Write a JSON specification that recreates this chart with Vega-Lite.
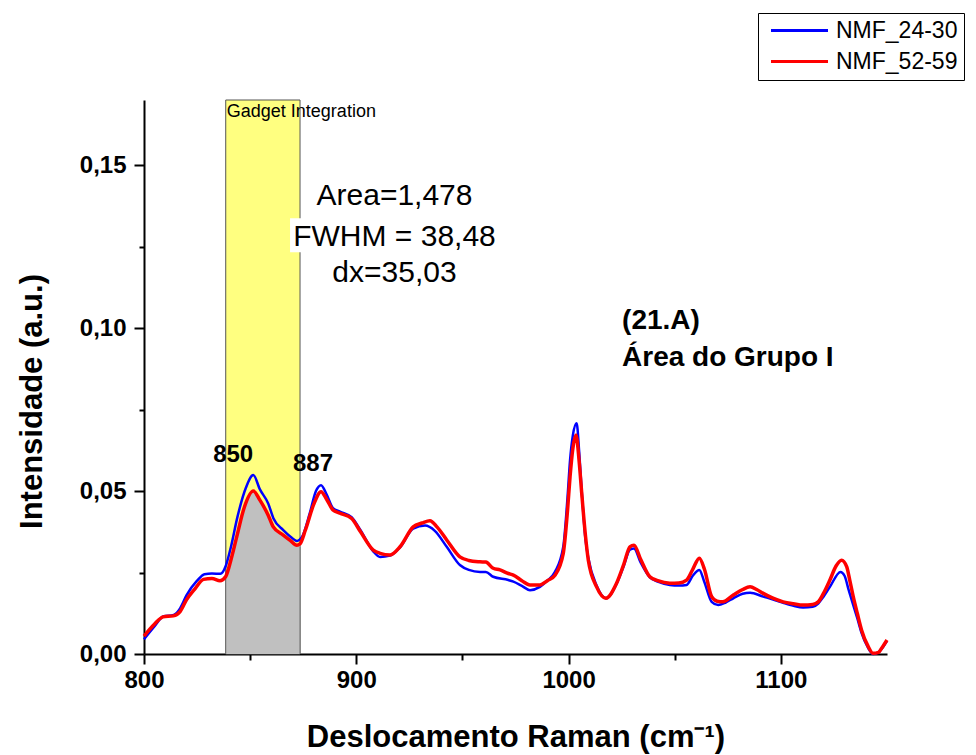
{
  "$schema": "https://vega.github.io/schema/vega-lite/v6.json",
  "width": 743,
  "height": 554,
  "autosize": "none",
  "padding": {"left": 144, "top": 100, "right": 89, "bottom": 101},
  "background": "white",
  "config": {
    "view": {"stroke": null},
    "font": "Liberation Sans",
    "legend": {
      "orient": "none",
      "legendX": 614,
      "legendY": -87,
      "strokeColor": "black",
      "fillColor": "white",
      "padding": 6,
      "symbolType": "M-2.85,0L2.85,0",
      "symbolSize": 400,
      "symbolStrokeWidth": 3,
      "symbolOffset": 24,
      "labelFontSize": 23,
      "labelFont": "Liberation Sans",
      "labelColor": "black",
      "labelOffset": 25,
      "rowPadding": 7,
      "titlePadding": 0
    }
  },
  "datasets": {
    "spectra": [
      {"shift": 800, "intensity": 0.0045, "series": "NMF_24-30"},
      {"shift": 805, "intensity": 0.0085, "series": "NMF_24-30"},
      {"shift": 809, "intensity": 0.0115, "series": "NMF_24-30"},
      {"shift": 814, "intensity": 0.012, "series": "NMF_24-30"},
      {"shift": 817, "intensity": 0.014, "series": "NMF_24-30"},
      {"shift": 820, "intensity": 0.018, "series": "NMF_24-30"},
      {"shift": 825, "intensity": 0.0225, "series": "NMF_24-30"},
      {"shift": 828.5, "intensity": 0.0245, "series": "NMF_24-30"},
      {"shift": 832, "intensity": 0.0247, "series": "NMF_24-30"},
      {"shift": 836, "intensity": 0.0246, "series": "NMF_24-30"},
      {"shift": 838.5, "intensity": 0.027, "series": "NMF_24-30"},
      {"shift": 841, "intensity": 0.033, "series": "NMF_24-30"},
      {"shift": 844, "intensity": 0.042, "series": "NMF_24-30"},
      {"shift": 848, "intensity": 0.051, "series": "NMF_24-30"},
      {"shift": 851.5, "intensity": 0.0549, "series": "NMF_24-30"},
      {"shift": 854.6, "intensity": 0.0505, "series": "NMF_24-30"},
      {"shift": 858.5, "intensity": 0.0462, "series": "NMF_24-30"},
      {"shift": 861, "intensity": 0.0416, "series": "NMF_24-30"},
      {"shift": 865.6, "intensity": 0.038, "series": "NMF_24-30"},
      {"shift": 869, "intensity": 0.036, "series": "NMF_24-30"},
      {"shift": 872, "intensity": 0.0347, "series": "NMF_24-30"},
      {"shift": 874.5, "intensity": 0.036, "series": "NMF_24-30"},
      {"shift": 878, "intensity": 0.043, "series": "NMF_24-30"},
      {"shift": 881, "intensity": 0.05, "series": "NMF_24-30"},
      {"shift": 883.4, "intensity": 0.0518, "series": "NMF_24-30"},
      {"shift": 886, "intensity": 0.049, "series": "NMF_24-30"},
      {"shift": 889, "intensity": 0.0448, "series": "NMF_24-30"},
      {"shift": 892.3, "intensity": 0.0437, "series": "NMF_24-30"},
      {"shift": 897.8, "intensity": 0.042, "series": "NMF_24-30"},
      {"shift": 902, "intensity": 0.038, "series": "NMF_24-30"},
      {"shift": 908, "intensity": 0.0315, "series": "NMF_24-30"},
      {"shift": 911.2, "intensity": 0.0298, "series": "NMF_24-30"},
      {"shift": 915.9, "intensity": 0.0302, "series": "NMF_24-30"},
      {"shift": 920.6, "intensity": 0.0327, "series": "NMF_24-30"},
      {"shift": 926.8, "intensity": 0.0385, "series": "NMF_24-30"},
      {"shift": 932.4, "intensity": 0.0394, "series": "NMF_24-30"},
      {"shift": 937, "intensity": 0.0378, "series": "NMF_24-30"},
      {"shift": 942.6, "intensity": 0.0329, "series": "NMF_24-30"},
      {"shift": 948.8, "intensity": 0.0273, "series": "NMF_24-30"},
      {"shift": 953, "intensity": 0.0258, "series": "NMF_24-30"},
      {"shift": 958.3, "intensity": 0.0252, "series": "NMF_24-30"},
      {"shift": 961, "intensity": 0.0252, "series": "NMF_24-30"},
      {"shift": 964.5, "intensity": 0.0237, "series": "NMF_24-30"},
      {"shift": 971.6, "intensity": 0.0227, "series": "NMF_24-30"},
      {"shift": 974, "intensity": 0.0222, "series": "NMF_24-30"},
      {"shift": 978, "intensity": 0.0209, "series": "NMF_24-30"},
      {"shift": 981.8, "intensity": 0.0196, "series": "NMF_24-30"},
      {"shift": 986.5, "intensity": 0.0206, "series": "NMF_24-30"},
      {"shift": 990, "intensity": 0.0225, "series": "NMF_24-30"},
      {"shift": 993.6, "intensity": 0.0252, "series": "NMF_24-30"},
      {"shift": 997.5, "intensity": 0.0329, "series": "NMF_24-30"},
      {"shift": 999.5, "intensity": 0.048, "series": "NMF_24-30"},
      {"shift": 1000.7, "intensity": 0.0595, "series": "NMF_24-30"},
      {"shift": 1002, "intensity": 0.067, "series": "NMF_24-30"},
      {"shift": 1003.8, "intensity": 0.0708, "series": "NMF_24-30"},
      {"shift": 1005, "intensity": 0.062, "series": "NMF_24-30"},
      {"shift": 1006.2, "intensity": 0.05, "series": "NMF_24-30"},
      {"shift": 1008, "intensity": 0.035, "series": "NMF_24-30"},
      {"shift": 1009.3, "intensity": 0.0295, "series": "NMF_24-30"},
      {"shift": 1013.2, "intensity": 0.021, "series": "NMF_24-30"},
      {"shift": 1017.6, "intensity": 0.0171, "series": "NMF_24-30"},
      {"shift": 1022.6, "intensity": 0.0215, "series": "NMF_24-30"},
      {"shift": 1026, "intensity": 0.027, "series": "NMF_24-30"},
      {"shift": 1028.9, "intensity": 0.032, "series": "NMF_24-30"},
      {"shift": 1030.8, "intensity": 0.0324, "series": "NMF_24-30"},
      {"shift": 1034, "intensity": 0.028, "series": "NMF_24-30"},
      {"shift": 1038.3, "intensity": 0.0235, "series": "NMF_24-30"},
      {"shift": 1042, "intensity": 0.0222, "series": "NMF_24-30"},
      {"shift": 1047.7, "intensity": 0.0212, "series": "NMF_24-30"},
      {"shift": 1052, "intensity": 0.021, "series": "NMF_24-30"},
      {"shift": 1055.6, "intensity": 0.0212, "series": "NMF_24-30"},
      {"shift": 1058.5, "intensity": 0.024, "series": "NMF_24-30"},
      {"shift": 1061.6, "intensity": 0.0258, "series": "NMF_24-30"},
      {"shift": 1064, "intensity": 0.022, "series": "NMF_24-30"},
      {"shift": 1067.4, "intensity": 0.016, "series": "NMF_24-30"},
      {"shift": 1070.5, "intensity": 0.015, "series": "NMF_24-30"},
      {"shift": 1074, "intensity": 0.0158, "series": "NMF_24-30"},
      {"shift": 1077.6, "intensity": 0.0171, "series": "NMF_24-30"},
      {"shift": 1082, "intensity": 0.0185, "series": "NMF_24-30"},
      {"shift": 1085.5, "intensity": 0.0188, "series": "NMF_24-30"},
      {"shift": 1091.7, "intensity": 0.0176, "series": "NMF_24-30"},
      {"shift": 1096, "intensity": 0.0168, "series": "NMF_24-30"},
      {"shift": 1101.1, "intensity": 0.0157, "series": "NMF_24-30"},
      {"shift": 1106, "intensity": 0.0148, "series": "NMF_24-30"},
      {"shift": 1110.5, "intensity": 0.0143, "series": "NMF_24-30"},
      {"shift": 1115, "intensity": 0.0145, "series": "NMF_24-30"},
      {"shift": 1117.6, "intensity": 0.0155, "series": "NMF_24-30"},
      {"shift": 1120, "intensity": 0.0175, "series": "NMF_24-30"},
      {"shift": 1123.1, "intensity": 0.0206, "series": "NMF_24-30"},
      {"shift": 1128.1, "intensity": 0.0252, "series": "NMF_24-30"},
      {"shift": 1130, "intensity": 0.024, "series": "NMF_24-30"},
      {"shift": 1132, "intensity": 0.0195, "series": "NMF_24-30"},
      {"shift": 1134.1, "intensity": 0.015, "series": "NMF_24-30"},
      {"shift": 1136, "intensity": 0.011, "series": "NMF_24-30"},
      {"shift": 1138, "intensity": 0.0065, "series": "NMF_24-30"},
      {"shift": 1141, "intensity": 0.002, "series": "NMF_24-30"},
      {"shift": 1143.5, "intensity": 0.0, "series": "NMF_24-30"},
      {"shift": 1146, "intensity": 0.0005, "series": "NMF_24-30"},
      {"shift": 1148, "intensity": 0.002, "series": "NMF_24-30"},
      {"shift": 1150, "intensity": 0.004, "series": "NMF_24-30"},

      {"shift": 800, "intensity": 0.0055, "series": "NMF_52-59"},
      {"shift": 805, "intensity": 0.0092, "series": "NMF_52-59"},
      {"shift": 809, "intensity": 0.0114, "series": "NMF_52-59"},
      {"shift": 813.8, "intensity": 0.0117, "series": "NMF_52-59"},
      {"shift": 817, "intensity": 0.013, "series": "NMF_52-59"},
      {"shift": 820, "intensity": 0.0166, "series": "NMF_52-59"},
      {"shift": 824, "intensity": 0.02, "series": "NMF_52-59"},
      {"shift": 828, "intensity": 0.0229, "series": "NMF_52-59"},
      {"shift": 832, "intensity": 0.0232, "series": "NMF_52-59"},
      {"shift": 835.8, "intensity": 0.0225, "series": "NMF_52-59"},
      {"shift": 838.5, "intensity": 0.0238, "series": "NMF_52-59"},
      {"shift": 841, "intensity": 0.029, "series": "NMF_52-59"},
      {"shift": 843.7, "intensity": 0.036, "series": "NMF_52-59"},
      {"shift": 847, "intensity": 0.0445, "series": "NMF_52-59"},
      {"shift": 851.5, "intensity": 0.05, "series": "NMF_52-59"},
      {"shift": 854.6, "intensity": 0.0472, "series": "NMF_52-59"},
      {"shift": 858.5, "intensity": 0.0426, "series": "NMF_52-59"},
      {"shift": 860.9, "intensity": 0.039, "series": "NMF_52-59"},
      {"shift": 865.6, "intensity": 0.0365, "series": "NMF_52-59"},
      {"shift": 869, "intensity": 0.0348, "series": "NMF_52-59"},
      {"shift": 872, "intensity": 0.0334, "series": "NMF_52-59"},
      {"shift": 873.5, "intensity": 0.0338, "series": "NMF_52-59"},
      {"shift": 876, "intensity": 0.038, "series": "NMF_52-59"},
      {"shift": 880, "intensity": 0.046, "series": "NMF_52-59"},
      {"shift": 883.4, "intensity": 0.0498, "series": "NMF_52-59"},
      {"shift": 886, "intensity": 0.0475, "series": "NMF_52-59"},
      {"shift": 889, "intensity": 0.0442, "series": "NMF_52-59"},
      {"shift": 892.3, "intensity": 0.0432, "series": "NMF_52-59"},
      {"shift": 897.8, "intensity": 0.0416, "series": "NMF_52-59"},
      {"shift": 902, "intensity": 0.0375, "series": "NMF_52-59"},
      {"shift": 908, "intensity": 0.0319, "series": "NMF_52-59"},
      {"shift": 911.2, "intensity": 0.0309, "series": "NMF_52-59"},
      {"shift": 915.9, "intensity": 0.0304, "series": "NMF_52-59"},
      {"shift": 920.6, "intensity": 0.0329, "series": "NMF_52-59"},
      {"shift": 926.8, "intensity": 0.039, "series": "NMF_52-59"},
      {"shift": 931, "intensity": 0.0402, "series": "NMF_52-59"},
      {"shift": 934.7, "intensity": 0.0409, "series": "NMF_52-59"},
      {"shift": 938, "intensity": 0.039, "series": "NMF_52-59"},
      {"shift": 942.6, "intensity": 0.035, "series": "NMF_52-59"},
      {"shift": 948.8, "intensity": 0.0298, "series": "NMF_52-59"},
      {"shift": 953, "intensity": 0.0287, "series": "NMF_52-59"},
      {"shift": 958.3, "intensity": 0.0283, "series": "NMF_52-59"},
      {"shift": 961, "intensity": 0.0282, "series": "NMF_52-59"},
      {"shift": 964.5, "intensity": 0.0263, "series": "NMF_52-59"},
      {"shift": 967.7, "intensity": 0.0258, "series": "NMF_52-59"},
      {"shift": 971.6, "intensity": 0.0247, "series": "NMF_52-59"},
      {"shift": 974, "intensity": 0.0242, "series": "NMF_52-59"},
      {"shift": 978, "intensity": 0.0225, "series": "NMF_52-59"},
      {"shift": 981.8, "intensity": 0.0212, "series": "NMF_52-59"},
      {"shift": 986.5, "intensity": 0.0212, "series": "NMF_52-59"},
      {"shift": 990, "intensity": 0.0225, "series": "NMF_52-59"},
      {"shift": 993.6, "intensity": 0.0242, "series": "NMF_52-59"},
      {"shift": 997.5, "intensity": 0.0309, "series": "NMF_52-59"},
      {"shift": 999.5, "intensity": 0.044, "series": "NMF_52-59"},
      {"shift": 1000.7, "intensity": 0.0544, "series": "NMF_52-59"},
      {"shift": 1002, "intensity": 0.063, "series": "NMF_52-59"},
      {"shift": 1003.5, "intensity": 0.0672, "series": "NMF_52-59"},
      {"shift": 1005, "intensity": 0.059, "series": "NMF_52-59"},
      {"shift": 1006.2, "intensity": 0.0493, "series": "NMF_52-59"},
      {"shift": 1008, "intensity": 0.036, "series": "NMF_52-59"},
      {"shift": 1009.3, "intensity": 0.0288, "series": "NMF_52-59"},
      {"shift": 1013.2, "intensity": 0.0206, "series": "NMF_52-59"},
      {"shift": 1017.6, "intensity": 0.0171, "series": "NMF_52-59"},
      {"shift": 1022.6, "intensity": 0.0217, "series": "NMF_52-59"},
      {"shift": 1026, "intensity": 0.0275, "series": "NMF_52-59"},
      {"shift": 1028.9, "intensity": 0.0329, "series": "NMF_52-59"},
      {"shift": 1030.8, "intensity": 0.0334, "series": "NMF_52-59"},
      {"shift": 1034, "intensity": 0.029, "series": "NMF_52-59"},
      {"shift": 1038.3, "intensity": 0.0237, "series": "NMF_52-59"},
      {"shift": 1042, "intensity": 0.0225, "series": "NMF_52-59"},
      {"shift": 1047.7, "intensity": 0.0217, "series": "NMF_52-59"},
      {"shift": 1052, "intensity": 0.0218, "series": "NMF_52-59"},
      {"shift": 1055.6, "intensity": 0.0227, "series": "NMF_52-59"},
      {"shift": 1058.5, "intensity": 0.026, "series": "NMF_52-59"},
      {"shift": 1061.6, "intensity": 0.0294, "series": "NMF_52-59"},
      {"shift": 1064, "intensity": 0.026, "series": "NMF_52-59"},
      {"shift": 1067.4, "intensity": 0.0176, "series": "NMF_52-59"},
      {"shift": 1070, "intensity": 0.0162, "series": "NMF_52-59"},
      {"shift": 1072.6, "intensity": 0.016, "series": "NMF_52-59"},
      {"shift": 1077.6, "intensity": 0.0181, "series": "NMF_52-59"},
      {"shift": 1082, "intensity": 0.0198, "series": "NMF_52-59"},
      {"shift": 1085.5, "intensity": 0.0206, "series": "NMF_52-59"},
      {"shift": 1088.6, "intensity": 0.0198, "series": "NMF_52-59"},
      {"shift": 1091.7, "intensity": 0.0186, "series": "NMF_52-59"},
      {"shift": 1096, "intensity": 0.0172, "series": "NMF_52-59"},
      {"shift": 1101.1, "intensity": 0.016, "series": "NMF_52-59"},
      {"shift": 1106, "intensity": 0.0154, "series": "NMF_52-59"},
      {"shift": 1110.5, "intensity": 0.015, "series": "NMF_52-59"},
      {"shift": 1115, "intensity": 0.0152, "series": "NMF_52-59"},
      {"shift": 1117.6, "intensity": 0.016, "series": "NMF_52-59"},
      {"shift": 1120, "intensity": 0.0185, "series": "NMF_52-59"},
      {"shift": 1123.1, "intensity": 0.0227, "series": "NMF_52-59"},
      {"shift": 1126, "intensity": 0.027, "series": "NMF_52-59"},
      {"shift": 1128.6, "intensity": 0.0288, "series": "NMF_52-59"},
      {"shift": 1131, "intensity": 0.0268, "series": "NMF_52-59"},
      {"shift": 1132.5, "intensity": 0.0225, "series": "NMF_52-59"},
      {"shift": 1134.1, "intensity": 0.0176, "series": "NMF_52-59"},
      {"shift": 1136, "intensity": 0.0125, "series": "NMF_52-59"},
      {"shift": 1138, "intensity": 0.0074, "series": "NMF_52-59"},
      {"shift": 1141, "intensity": 0.0025, "series": "NMF_52-59"},
      {"shift": 1143.5, "intensity": 0.0002, "series": "NMF_52-59"},
      {"shift": 1146, "intensity": 0.0005, "series": "NMF_52-59"},
      {"shift": 1147.4, "intensity": 0.0017, "series": "NMF_52-59"},
      {"shift": 1150, "intensity": 0.0043, "series": "NMF_52-59"}
    ],
    "window": [{"x1": 838.5, "x2": 873.5, "y1": 0, "y2": 0.17}],
    "labelbox": [{"x1": 868.8, "x2": 967, "y1": 0.1233, "y2": 0.1337}],
    "stats": [
      {"x": 918, "y": 0.1377, "label": "Area=1,478"},
      {"x": 918, "y": 0.1252, "label": "FWHM = 38,48"},
      {"x": 918, "y": 0.1141, "label": "dx=35,03"}
    ],
    "gadget": [{"x": 839, "y": 0.1647, "label": "Gadget Integration"}],
    "peaks": [
      {"x": 842, "y": 0.0589, "label": "850"},
      {"x": 879.6, "y": 0.0561, "label": "887"}
    ],
    "group": [
      {"x": 1025.2, "y": 0.0997, "label": "(21.A)"},
      {"x": 1025.2, "y": 0.0883, "label": "Área do Grupo I"}
    ]
  },
  "layer": [
    {
      "data": {"name": "window"},
      "mark": {"type": "rect", "fill": "#FFFF80", "stroke": "#555555", "strokeWidth": 1},
      "encoding": {
        "x": {"field": "x1", "type": "quantitative", "scale": {"domain": [800, 1150], "nice": false, "zero": false},
          "axis": {
            "values": [800, 850, 900, 950, 1000, 1050, 1100],
            "format": "d",
            "labelExpr": "datum.value % 100 == 0 ? datum.label : ''",
            "labelFlush": false,
            "labelOverlap": false,
            "title": "Deslocamento Raman (cm⁻¹)",
            "titleFont": "Liberation Sans",
            "titleFontSize": 31,
            "titleFontWeight": "bold",
            "titleColor": "black",
            "titleY": 92,
            "titleBaseline": "alphabetic",
            "labelFont": "Liberation Sans",
            "labelFontSize": 24,
            "labelFontWeight": "bold",
            "labelColor": "black",
            "labelPadding": 4,
            "domainColor": "black",
            "domainWidth": 2,
            "tickColor": "black",
            "tickWidth": 2,
            "tickSize": {"condition": {"test": "datum.value % 100 == 0", "value": 10}, "value": 6},
            "grid": false
          }
        },
        "x2": {"field": "x2"},
        "y": {"field": "y1", "type": "quantitative", "scale": {"domain": [0, 0.17], "nice": false},
          "axis": {
            "values": [0, 0.025, 0.05, 0.075, 0.1, 0.125, 0.15],
            "labelExpr": "abs(datum.value*20 - round(datum.value*20)) < 0.000001 ? replace(format(datum.value, '.2f'), '.', ',') : ''",
            "labelOverlap": false,
            "labelFlush": false,
            "title": "Intensidade (a.u.)",
            "titleFont": "Liberation Sans",
            "titleFontSize": 31,
            "titleFontWeight": "bold",
            "titleColor": "black",
            "titleX": -112,
            "titleY": 301,
            "titleBaseline": "middle",
            "labelFont": "Liberation Sans",
            "labelFontSize": 24,
            "labelFontWeight": "bold",
            "labelColor": "black",
            "labelPadding": 8,
            "domainColor": "black",
            "domainWidth": 2,
            "tickColor": "black",
            "tickWidth": 2,
            "tickSize": {"condition": {"test": "abs(datum.value*20 - round(datum.value*20)) < 0.000001", "value": 10}, "value": 5},
            "grid": false
          }
        },
        "y2": {"field": "y2"}
      }
    },
    {
      "data": {"name": "spectra"},
      "transform": [
        {"filter": "datum.series == 'NMF_52-59' && datum.shift >= 838.5 && datum.shift <= 873.5"}
      ],
      "mark": {"type": "area", "fill": "#C0C0C0", "interpolate": "monotone"},
      "encoding": {
        "x": {"field": "shift", "type": "quantitative"},
        "y": {"field": "intensity", "type": "quantitative"}
      }
    },
    {
      "data": {"name": "window"},
      "mark": {"type": "rule", "stroke": "#6b6b6b", "strokeWidth": 1},
      "encoding": {
        "x": {"field": "x1", "type": "quantitative"},
        "y": {"field": "y1", "type": "quantitative"},
        "y2": {"datum": 0.035}
      }
    },
    {
      "data": {"name": "window"},
      "mark": {"type": "rule", "stroke": "#6b6b6b", "strokeWidth": 1},
      "encoding": {
        "x": {"field": "x2", "type": "quantitative"},
        "y": {"field": "y1", "type": "quantitative"},
        "y2": {"datum": 0.033}
      }
    },
    {
      "data": {"name": "labelbox"},
      "mark": {"type": "rect", "fill": "white"},
      "encoding": {
        "x": {"field": "x1", "type": "quantitative"},
        "x2": {"field": "x2"},
        "y": {"field": "y1", "type": "quantitative"},
        "y2": {"field": "y2"}
      }
    },
    {
      "data": {"name": "spectra"},
      "transform": [{"filter": "datum.series == 'NMF_24-30'"}],
      "mark": {"type": "line", "strokeWidth": 2.5, "interpolate": "monotone"},
      "encoding": {
        "x": {"field": "shift", "type": "quantitative"},
        "y": {"field": "intensity", "type": "quantitative"},
        "color": {"field": "series", "type": "nominal",
          "scale": {"domain": ["NMF_24-30", "NMF_52-59"], "range": ["#0000FF", "#FF0000"]},
          "legend": {"title": null}
        }
      }
    },
    {
      "data": {"name": "spectra"},
      "transform": [{"filter": "datum.series == 'NMF_52-59'"}],
      "mark": {"type": "line", "strokeWidth": 3.5, "interpolate": "monotone"},
      "encoding": {
        "x": {"field": "shift", "type": "quantitative"},
        "y": {"field": "intensity", "type": "quantitative"},
        "color": {"field": "series", "type": "nominal"}
      }
    },
    {
      "data": {"name": "stats"},
      "mark": {"type": "text", "font": "Liberation Sans", "fontSize": 30, "align": "center", "baseline": "alphabetic", "color": "black"},
      "encoding": {
        "x": {"field": "x", "type": "quantitative"},
        "y": {"field": "y", "type": "quantitative"},
        "text": {"field": "label"}
      }
    },
    {
      "data": {"name": "gadget"},
      "mark": {"type": "text", "font": "Liberation Sans", "fontSize": 18, "align": "left", "baseline": "alphabetic", "color": "black"},
      "encoding": {
        "x": {"field": "x", "type": "quantitative"},
        "y": {"field": "y", "type": "quantitative"},
        "text": {"field": "label"}
      }
    },
    {
      "data": {"name": "peaks"},
      "mark": {"type": "text", "font": "Liberation Sans", "fontSize": 24, "fontWeight": "bold", "align": "center", "baseline": "alphabetic", "color": "black"},
      "encoding": {
        "x": {"field": "x", "type": "quantitative"},
        "y": {"field": "y", "type": "quantitative"},
        "text": {"field": "label"}
      }
    },
    {
      "data": {"name": "group"},
      "mark": {"type": "text", "font": "Liberation Sans", "fontSize": 28, "fontWeight": "bold", "align": "left", "baseline": "alphabetic", "color": "black"},
      "encoding": {
        "x": {"field": "x", "type": "quantitative"},
        "y": {"field": "y", "type": "quantitative"},
        "text": {"field": "label"}
      }
    }
  ]
}
